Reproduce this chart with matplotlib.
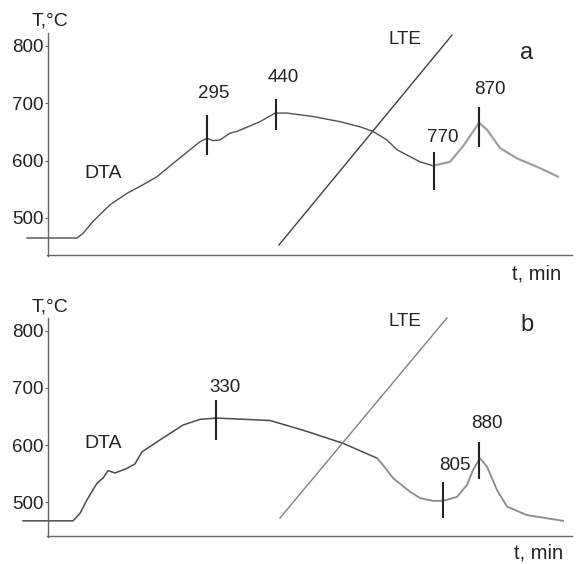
import matplotlib
matplotlib.use("Agg")
import matplotlib.pyplot as plt

plt.rcParams['font.family'] = ['Liberation Sans', 'DejaVu Sans']

# ---- data (t in arbitrary time units, T in °C) ----
# Panel a
t_a = [27, 60, 77, 83, 93, 110, 127, 143, 157, 173, 190, 200, 207, 213, 220, 230, 237, 260, 275, 287,
       313, 340, 360, 373, 387, 397, 410, 420, 433, 450, 463, 472, 479, 487, 500, 517, 540, 558]
T_a = [465, 465, 465, 473, 494, 523, 543, 558, 572, 595, 619, 633, 639, 635, 636, 648, 651, 668, 683, 683,
       677, 668, 659, 651, 636, 619, 607, 598, 591, 598, 625, 648, 666, 654, 622, 604, 587, 572]
lte_t_a = [279, 452]
lte_T_a = [453, 819]
ev_a = [207, 276, 434, 479]
ev_a_lo = [610, 654, 549, 624]
ev_a_hi = [680, 708, 615, 694]
ev_a_lab = ["295", "440", "770", "870"]

# Panel b
t_b = [23, 60, 73, 80, 87, 97, 103, 108, 115, 127, 135, 142, 160, 183, 200, 215, 220, 270, 303, 343,
       377, 383, 393, 410, 420, 433, 443, 457, 467, 473, 480, 487, 497, 507, 527, 563]
T_b = [467, 467, 467, 480, 504, 533, 542, 555, 551, 559, 567, 588, 609, 635, 645, 647, 647, 643, 626, 603,
       577, 565, 542, 518, 507, 502, 502, 509, 530, 556, 577, 562, 521, 492, 477, 467]
lte_t_b = [280, 447]
lte_T_b = [472, 823]
ev_b = [216, 443, 479]
ev_b_lo = [609, 472, 540]
ev_b_hi = [679, 535, 605]
ev_b_lab = ["330", "805", "880"]

yticks = [500, 600, 700, 800]

W, H = 583, 564
fig = plt.figure(figsize=(W / 100, H / 100), dpi=100)
fig.patch.set_facecolor('white')

def fx(px):
    return px / W

def fy(py):
    return 1 - py / H

def make_ax(y_axis_px, y_top_px, T_axis, T_top, ax_top_T):
    ax = fig.add_axes([fx(20), fy(y_axis_px), fx(555), (y_axis_px - y_top_px) / H])
    ax.set_xlim(20, 575)
    ax.set_ylim(T_axis, T_top)
    for s in ['top', 'right']:
        ax.spines[s].set_visible(False)
    ax.spines['left'].set_position(('data', 48))
    ax.spines['left'].set_bounds(T_axis - 2, ax_top_T)
    ax.spines['bottom'].set_bounds(47, 572)
    for s in ['left', 'bottom']:
        ax.spines[s].set_color('#666666')
        ax.spines[s].set_linewidth(1.0)
    ax.set_xticks([])
    ax.set_yticks(yticks)
    ax.set_yticklabels([str(v) for v in yticks])
    ax.tick_params(axis='y', length=2, width=0.8, color='#666666', pad=1, labelsize=13.5, labelcolor='#222222')
    ax.patch.set_alpha(0)
    return ax

# top panel
axa = make_ax(255, 28, 435.4, 831.4, 822.7)
na = 29
axa.plot(t_a[:na], T_a[:na], color='#505050', lw=1.0)
axa.plot(t_a[na - 1:], T_a[na - 1:], color='#a0a0a0', lw=1.6)
axa.plot(lte_t_a, lte_T_a, color='#404040', lw=1.0)
axa.vlines(ev_a, ev_a_lo, ev_a_hi, color='#222222', lw=1.5)

# bottom panel
axb = make_ax(536, 310, 440.4, 836.8, 822.8)
nb = 21
axb.plot(t_b[:nb], T_b[:nb], color='#4a4a4a', lw=1.1)
axb.plot(t_b[nb - 1:], T_b[nb - 1:], color='#8a8a8a', lw=1.3)
axb.plot(lte_t_b, lte_T_b, color='#808080', lw=1.0)
axb.vlines(ev_b, ev_b_lo, ev_b_hi, color='#222222', lw=1.5)

txt = dict(color='#222222', ha='center', va='center')
# labels panel a
lab_pos_a = [(214, 93), (283, 78), (443, 138), (490, 90)]
for lab, (px, py) in zip(ev_a_lab, lab_pos_a):
    fig.text(fx(px), fy(py), lab, fontsize=13.5, **txt)
fig.text(fx(405), fy(39), "LTE", fontsize=13.5, **txt)
fig.text(fx(527), fy(53), "a", fontsize=17, **txt)
fig.text(fx(103), fy(173), "DTA", fontsize=14, **txt)
fig.text(fx(50), fy(21), "T,°C", fontsize=14, **txt)
fig.text(fx(537), fy(274), "t, min", fontsize=14.5, **txt)

# labels panel b
lab_pos_b = [(225, 387), (455, 465), (487, 423)]
for lab, (px, py) in zip(ev_b_lab, lab_pos_b):
    fig.text(fx(px), fy(py), lab, fontsize=13.5, **txt)
fig.text(fx(405), fy(321), "LTE", fontsize=13.5, **txt)
fig.text(fx(527), fy(325), "b", fontsize=17, **txt)
fig.text(fx(103), fy(443), "DTA", fontsize=14, **txt)
fig.text(fx(50), fy(307), "T,°C", fontsize=14, **txt)
fig.text(fx(539), fy(553), "t, min", fontsize=14.5, **txt)

fig.savefig("out.png", dpi=100, facecolor='white')
